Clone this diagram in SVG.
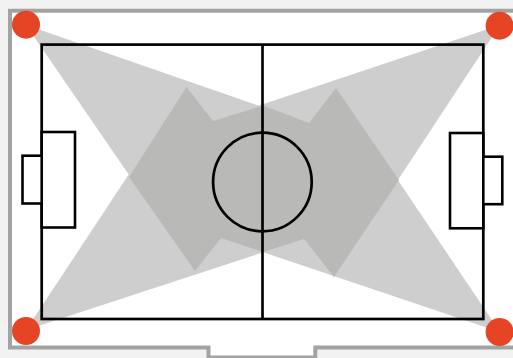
<svg xmlns="http://www.w3.org/2000/svg" width="513" height="358" viewBox="0 0 513 358">
  <style>
    .cone { fill: #cecece; }
    .overlap { fill: #b9b9b8; }
    .line { fill: none; stroke: #000; stroke-width: 2.7; }
    .box { fill: #fff; stroke: #000; stroke-width: 2.6; }
    .light { fill: #e64525; }
  </style>
  <rect id="background" width="513" height="358" fill="#f2f2f2"/>
  <path id="boundary" d="M515 10.7H10V347.5H208.5V357.5H315.3V347.5H515Z" fill="#fff" stroke="#a3a3a3" stroke-width="4"/>
  <g id="cones">
    <polygon class="cone" points="26,25 195,271 309,123"/>
    <polygon class="cone" points="26,330 186.5,87 304,239"/>
    <polygon class="cone" points="500,25 213,121 334,277"/>
    <polygon class="cone" points="500,332 336,88 221,238"/>
    <polygon class="overlap" points="186.5,87 213,121 263,105.5 309,123 336,88 399,180 334,277 304,239 263,252 221,238 195,271 129,177"/>
  </g>
  <g id="pitch">
    <rect class="line" x="41.7" y="44.6" width="441.6" height="274.4"/>
    <line class="line" x1="262.5" y1="44.6" x2="262.5" y2="319"/>
    <circle class="line" cx="262.4" cy="182" r="49.3"/>
    <rect class="box" x="41.7" y="132" width="33.3" height="95.5"/>
    <rect class="box" x="22.5" y="155.7" width="19.2" height="47.8"/>
    <rect class="box" x="450" y="133" width="33.3" height="95.3"/>
    <rect class="box" x="483.3" y="156.7" width="19" height="47.5"/>
  </g>
  <g id="lights">
    <circle id="light-tl" class="light" cx="26" cy="24.7" r="14"/>
    <circle id="light-tr" class="light" cx="499.6" cy="25.7" r="14"/>
    <circle id="light-bl" class="light" cx="26" cy="331" r="14"/>
    <circle id="light-br" class="light" cx="499.6" cy="332" r="14"/>
  </g>
</svg>
